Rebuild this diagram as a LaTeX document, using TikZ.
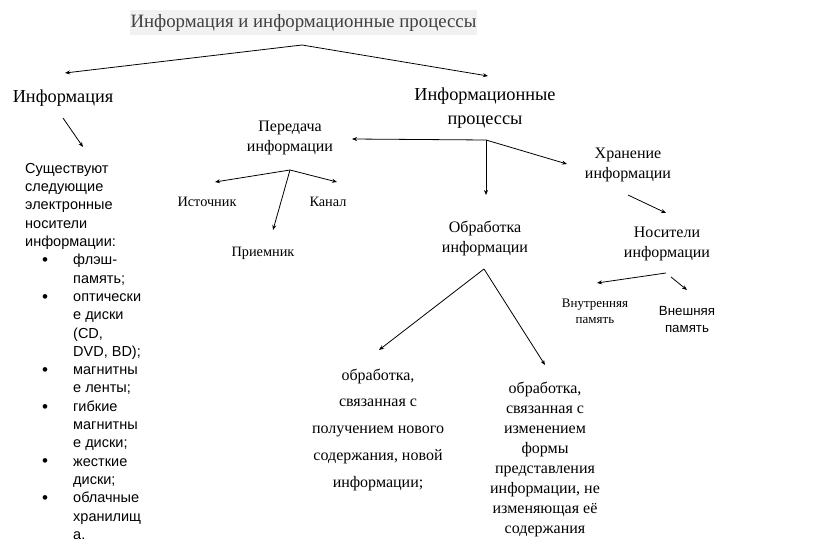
\documentclass[tikz,border=0pt]{standalone}
\usepackage{fontspec}
\setmainfont{Liberation Serif}
\setsansfont{Liberation Sans}
\usetikzlibrary{arrows.meta}
\definecolor{titlebg}{HTML}{F1F1F1}
\definecolor{titletext}{HTML}{404040}
\newcommand{\itm}{\hbox to 48pt{\hskip 17pt\raisebox{-0.8pt}{\fontsize{17}{0}\selectfont\textbullet}\hss}}
\newcommand{\ind}{\hbox to 48pt{\hss}}

\begin{document}
\begin{tikzpicture}[x=1pt, y=-1pt,
  arr/.style={-{Stealth[length=5pt,width=4pt]}, line width=0.8pt},
  big/.style={font=\fontsize{18.3}{24}\selectfont, align=center, inner sep=0pt},
  mid/.style={font=\fontsize{16}{20}\selectfont, align=center, inner sep=0pt},
  small/.style={font=\fontsize{14.3}{18}\selectfont, inner sep=0pt},
  tiny/.style={font=\fontsize{13}{16}\selectfont, align=center, inner sep=0pt},
  sans/.style={font=\sffamily\fontsize{14.5}{18.3}\selectfont, align=left, inner sep=0pt}]
  \useasboundingbox (0,0) rectangle (816,556);

  % Title with its grey band
  \node[big, font=\fontsize{18.8}{24}\selectfont, fill=titlebg, text=titletext, minimum width=347pt, minimum height=25pt]
    (title) at (303.5,22.5) {Информация и информационные процессы};
  \coordinate (title-fork) at (302,45);

  % Upper level
  \node[big] (info) at (63,98) {Информация};
  \node[big] (proc) at (485,108) {Информационные\\процессы};
  \coordinate (proc-fork) at (486,140);

  % List of media under the left branch
  \node[sans, anchor=north west] (media) at (25,163) {Существуют\\следующие\\электронные\\носители\\информации:\\
    \itm флэш-\\\ind память;\\
    \itm оптически\\\ind е диски\\\ind (CD,\\\ind DVD, BD);\\
    \itm магнитны\\\ind е ленты;\\
    \itm гибкие\\\ind магнитны\\\ind е диски;\\
    \itm жесткие\\\ind диски;\\
    \itm облачные\\\ind хранилищ\\\ind а.};

  % Second level of processes
  \node[mid] (transfer) at (290,138) {Передача\\информации};
  \node[mid] (storage) at (628,165) {Хранение\\информации};
  \node[mid] (process) at (485,238) {Обработка\\информации};
  \coordinate (transfer-fork) at ([shift={(0,32)}]transfer.center);

  \node[small] (source) at (207,202) {Источник};
  \node[small] (channel) at (328,202) {Канал};
  \node[small] (receiver) at (263,253) {Приемник};

  \node[mid] (carriers) at (667,244) {Носители\\информации};
  \coordinate (carriers-fork) at ([shift={(-1,29)}]carriers.center);
  \node[tiny] (inner) at (595,311) {Внутренняя\\память};
  \node[tiny, font=\sffamily\fontsize{13.3}{17}\selectfont] (outer) at (687,319) {Внешняя\\память};

  \coordinate (process-fork) at ([shift={(-1,31)}]process.center);
  \node[mid, font=\fontsize{16}{26.75}\selectfont] (newinfo) at (378,429.5)
    {обработка,\\связанная с\\получением нового\\содержания, новой\\информации;};
  \node[mid] (newform) at (545,459.5)
    {обработка,\\связанная с\\изменением\\формы\\представления\\информации, не\\изменяющая её\\содержания};

  % Arrows
  \draw[arr] (title-fork) -- ([shift={(2,-25)}]info.center);
  \draw[arr] (title-fork) -- ([shift={(3,-32)}]proc.center);
  \draw[arr] ([shift={(0,20)}]info.center) -- ([shift={(58,-16)}]media.north west);

  \draw[arr] (proc-fork) -- ([shift={(62,1)}]transfer.center);
  \draw[arr] (proc-fork) -- ([shift={(1,-43)}]process.center);
  \draw[arr] (proc-fork) -- ([shift={(-61,-1)}]storage.center);

  \draw[arr] (transfer-fork) -- ([shift={(8,-20)}]source.center);
  \draw[arr] (transfer-fork) -- ([shift={(9,-20)}]channel.center);
  \draw[arr] (transfer-fork) -- ([shift={(10,-23)}]receiver.center);

  \draw[arr] ([shift={(0,30)}]storage.center) -- ([shift={(-1,-31)}]carriers.center);
  \draw[arr] (carriers-fork) -- ([shift={(2,-28)}]inner.center);
  \draw[arr] ([shift={(4,33)}]carriers.center) -- ([shift={(0,-29)}]outer.center);

  \draw[arr] (process-fork) -- ([shift={(1,-79.5)}]newinfo.center);
  \draw[arr] (process-fork) -- ([shift={(0,-94.5)}]newform.center);
\end{tikzpicture}
\end{document}
